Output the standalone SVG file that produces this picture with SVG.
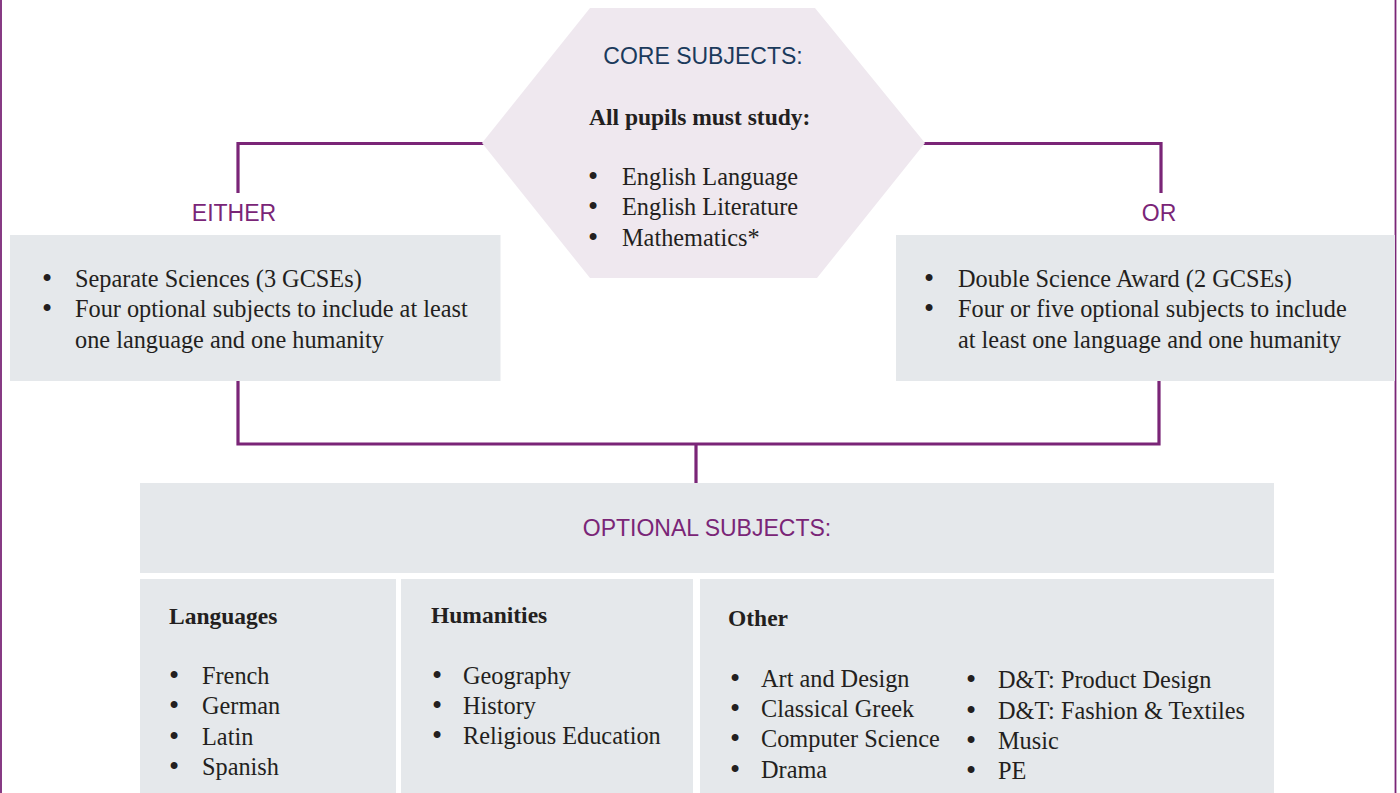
<svg xmlns="http://www.w3.org/2000/svg" width="1400" height="793" viewBox="0 0 1400 793">
<style>
.box{fill:#e5e8eb}
.hex{fill:#efe8ef}
.conn{fill:none;stroke:#7a2577;stroke-width:3.2}
.frame{stroke:#7a2577;stroke-width:1.8}
.sans{font-family:"Liberation Sans",Arial,sans-serif;font-size:23px}
.purple{fill:#7a2577}
.navy{fill:#1b3a5c}
.body{font-family:"Liberation Serif","Times New Roman",serif;font-size:24.3px;fill:#231f20}
.bul{font-family:"Liberation Serif","Times New Roman",serif;font-size:29px;fill:#231f20}
.bold{font-family:"Liberation Serif","Times New Roman",serif;font-size:23.5px;font-weight:bold;fill:#231f20}
</style>
<rect x="0" y="0" width="1400" height="793" fill="#ffffff"/>
<g id="frame">
<line class="frame" x1="1" y1="0" x2="1" y2="793"/>
<line class="frame" x1="1395.5" y1="0" x2="1395.5" y2="793"/>
</g>
<g id="connectors">
<path class="conn" d="M484 143.5 H238 V193"/>
<path class="conn" d="M922 143.5 H1161 V193"/>
<path class="conn" d="M238 381 V444 H1159 V381"/>
<path class="conn" d="M696 444 V483"/>
</g>
<g id="core">
<polygon class="hex" points="590,8 815,8 925,143 817,278 590,278 482,143"/>
<text class="sans navy" x="703" y="64" text-anchor="middle" font-size="23.4">CORE SUBJECTS:</text>
<text class="bold" x="589" y="125" font-size="24.6">All pupils must study:</text>
<text class="bul" x="588" y="186">•</text><text class="body" x="622" y="185">English Language</text>
<text class="bul" x="588" y="216">•</text><text class="body" x="622" y="215">English Literature</text>
<text class="bul" x="588" y="247">•</text><text class="body" x="622" y="246">Mathematics*</text>
</g>
<g id="either-label">
<text class="sans purple" x="234" y="221" text-anchor="middle">EITHER</text>
</g>
<g id="or-label">
<text class="sans purple" x="1159" y="221" text-anchor="middle">OR</text>
</g>
<g id="either">
<rect class="box" x="10" y="235" width="490.5" height="146"/>
<text class="bul" x="42" y="288">•</text><text class="body" x="75" y="287">Separate Sciences (3 GCSEs)</text>
<text class="bul" x="42" y="318">•</text><text class="body" x="75" y="317">Four optional subjects to include at least</text>
<text class="body" x="75" y="348">one language and one humanity</text>
</g>
<g id="or">
<rect class="box" x="896" y="235" width="499" height="146"/>
<text class="bul" x="924" y="288">•</text><text class="body" x="958" y="287">Double Science Award (2 GCSEs)</text>
<text class="bul" x="924" y="318">•</text><text class="body" x="958" y="317">Four or five optional subjects to include</text>
<text class="body" x="958" y="348">at least one language and one humanity</text>
</g>
<g id="optional">
<rect class="box" x="140" y="483" width="1134" height="90"/>
<text class="sans purple" x="707" y="536" text-anchor="middle" font-size="24">OPTIONAL SUBJECTS:</text>
</g>
<g id="languages">
<rect class="box" x="140" y="579" width="256" height="214"/>
<text class="bold" x="169" y="624">Languages</text>
<text class="bul" x="169" y="685">•</text><text class="body" x="202" y="684">French</text>
<text class="bul" x="169" y="715">•</text><text class="body" x="202" y="714">German</text>
<text class="bul" x="169" y="746">•</text><text class="body" x="202" y="745">Latin</text>
<text class="bul" x="169" y="776">•</text><text class="body" x="202" y="775">Spanish</text>
</g>
<g id="humanities">
<rect class="box" x="401" y="579" width="292" height="214"/>
<text class="bold" x="431" y="623">Humanities</text>
<text class="bul" x="432" y="685">•</text><text class="body" x="463" y="684">Geography</text>
<text class="bul" x="432" y="715">•</text><text class="body" x="463" y="714">History</text>
<text class="bul" x="432" y="745">•</text><text class="body" x="463" y="744">Religious Education</text>
</g>
<g id="other">
<rect class="box" x="700" y="579" width="574" height="214"/>
<text class="bold" x="728" y="626">Other</text>
<text class="bul" x="730" y="688">•</text><text class="body" x="761" y="687">Art and Design</text>
<text class="bul" x="730" y="718">•</text><text class="body" x="761" y="717">Classical Greek</text>
<text class="bul" x="730" y="748">•</text><text class="body" x="761" y="747">Computer Science</text>
<text class="bul" x="730" y="779">•</text><text class="body" x="761" y="778">Drama</text>
<text class="bul" x="966" y="689">•</text><text class="body" x="998" y="688">D&amp;T: Product Design</text>
<text class="bul" x="966" y="720">•</text><text class="body" x="998" y="719">D&amp;T: Fashion &amp; Textiles</text>
<text class="bul" x="966" y="750">•</text><text class="body" x="998" y="749">Music</text>
<text class="bul" x="966" y="780">•</text><text class="body" x="998" y="779">PE</text>
</g>
</svg>
